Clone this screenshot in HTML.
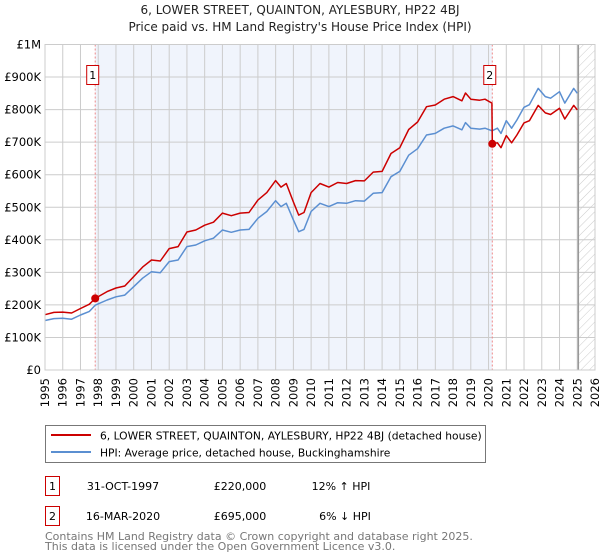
<!DOCTYPE html>
<html><head><meta charset="utf-8"><style>
body{margin:0;background:#fff;font-family:"DejaVu Sans","Liberation Sans",sans-serif;}
#wrap{position:relative;width:600px;height:560px;overflow:hidden;}
svg text{font-family:"DejaVu Sans","Liberation Sans",sans-serif;}
</style></head><body><div id="wrap">
<svg id="chart" width="600" height="560" xmlns="http://www.w3.org/2000/svg">
<defs><pattern id="hatch" width="6" height="6" patternUnits="userSpaceOnUse" patternTransform="rotate(45)"><line x1="0" y1="0" x2="0" y2="6" stroke="#ccc" stroke-width="1"/></pattern></defs>
<text x="300" y="14" text-anchor="middle" font-size="12" fill="#222">6, LOWER STREET, QUAINTON, AYLESBURY, HP22 4BJ</text>
<text x="300" y="31" text-anchor="middle" font-size="12" fill="#222">Price paid vs. HM Land Registry's House Price Index (HPI)</text>
<g id="plot"></g>
<g>
<rect x="45.5" y="425.5" width="440" height="37" fill="#fff" stroke="#777"/>
<line x1="51" y1="435" x2="91" y2="435" stroke="#cc0000" stroke-width="2"/>
<text x="100" y="439.5" font-size="10.7" fill="#000">6, LOWER STREET, QUAINTON, AYLESBURY, HP22 4BJ (detached house)</text>
<line x1="51" y1="452" x2="91" y2="452" stroke="#5b8fd1" stroke-width="2"/>
<text x="100" y="456.5" font-size="10.7" fill="#000">HPI: Average price, detached house, Buckinghamshire</text>
</g>
<g font-size="11" fill="#000">
<rect x="45.5" y="476.5" width="14" height="19" fill="#fff" stroke="#cc0000"/>
<text x="52.5" y="490" text-anchor="middle">1</text>
<text x="123" y="490" text-anchor="middle">31-OCT-1997</text>
<text x="240" y="490" text-anchor="middle">£220,000</text>
<text x="341" y="490" text-anchor="middle">12% ↑ HPI</text>
<rect x="45.5" y="506.5" width="14" height="19" fill="#fff" stroke="#cc0000"/>
<text x="52.5" y="520" text-anchor="middle">2</text>
<text x="123" y="520" text-anchor="middle">16-MAR-2020</text>
<text x="240" y="520" text-anchor="middle">£695,000</text>
<text x="345" y="520" text-anchor="middle">6% ↓ HPI</text>
</g>
<text x="45" y="540" font-size="11" fill="#777">Contains HM Land Registry data © Crown copyright and database right 2025.</text>
<text x="45" y="550" font-size="11" fill="#777">This data is licensed under the Open Government Licence v3.0.</text>
</svg>
<script>
const hpiYears=[1995,1995.5,1996,1996.5,1997,1997.5,1997.83,1998.5,1999,1999.5,2000,2000.5,2001,2001.5,2002,2002.5,2003,2003.5,2004,2004.5,2005,2005.5,2006,2006.5,2007,2007.5,2008,2008.3,2008.6,2009,2009.3,2009.6,2010,2010.5,2011,2011.5,2012,2012.5,2013,2013.5,2014,2014.5,2015,2015.5,2016,2016.5,2017,2017.5,2018,2018.5,2018.7,2019,2019.5,2019.8,2020.2,2020.5,2020.7,2021,2021.3,2021.6,2022,2022.3,2022.8,2023.2,2023.5,2024,2024.3,2024.8,2025];
const hpiValues=[152,158,159,156,169,180,199,215,225,230,256,282,302,299,333,338,379,384,397,405,430,423,430,432,466,487,520,502,512,461,425,432,487,512,502,514,512,520,519,543,545,594,610,660,680,722,727,743,750,738,760,743,740,743,735,743,727,766,743,768,807,815,865,840,835,855,820,865,850];
const priceYears=[1995,1995.5,1996,1996.5,1997,1997.5,1997.83,1998.5,1999,1999.5,2000,2000.5,2001,2001.5,2002,2002.5,2003,2003.5,2004,2004.5,2005,2005.5,2006,2006.5,2007,2007.5,2008,2008.3,2008.6,2009,2009.3,2009.6,2010,2010.5,2011,2011.5,2012,2012.5,2013,2013.5,2014,2014.5,2015,2015.5,2016,2016.5,2017,2017.5,2018,2018.5,2018.7,2019,2019.5,2019.8,2020.19,2020.21,2020.5,2020.7,2021,2021.3,2021.6,2022,2022.3,2022.8,2023.2,2023.5,2024,2024.3,2024.8,2025];
const priceValues=[170,177,178,175,189,202,220,241,252,258,287,316,338,335,373,379,424,430,445,454,482,474,482,484,522,545,582,562,573,516,476,484,545,573,562,576,573,582,581,608,610,665,683,739,762,809,814,832,840,827,851,832,829,832,820,695,698,683,720,698,722,759,766,813,790,785,804,771,813,799];
const saleYears=[1997.83,2020.21];
const saleValues=[220,695];
const saleLabels=["1","2"];
const yTicks=[0,100,200,300,400,500,600,700,800,900,1000];
const yTickLabels=["£0","£100K","£200K","£300K","£400K","£500K","£600K","£700K","£800K","£900K","£1M"];
const xTicks=[1995,1996,1997,1998,1999,2000,2001,2002,2003,2004,2005,2006,2007,2008,2009,2010,2011,2012,2013,2014,2015,2016,2017,2018,2019,2020,2021,2022,2023,2024,2025,2026];
const dataEnd=2025.06;

const L=45,R=595,T=44.5,B=370;
const X=y=>L+(y-1995)/(2026-1995)*(R-L);
const Y=v=>B-v/1000*(B-T);
const NS="http://www.w3.org/2000/svg";
const g=document.getElementById('plot');
function mk(tag,attrs,parent){const e=document.createElementNS(NS,tag);for(const k in attrs)e.setAttribute(k,attrs[k]);(parent||g).appendChild(e);return e;}

let r=mk('rect',{x:X(saleYears[0]),y:T,width:X(saleYears[1])-X(saleYears[0]),height:B-T,fill:'#f0f4fc'});


r=mk('rect',{x:X(dataEnd),y:T,width:R-X(dataEnd),height:B-T,fill:'url(#hatch)'});



yTicks.forEach((v,i)=>{
 const ln=mk('line',{x1:L,x2:R,y1:Y(v),y2:Y(v),stroke:'#ccc','stroke-width':1});
 
 
 const t=mk('text',{x:L-4,y:Y(v)+4,'text-anchor':'end','font-size':11.5,fill:'#000'});
 t.textContent=yTickLabels[i];
 
 
});
xTicks.forEach(yr=>{
 const ln=mk('line',{x1:X(yr),x2:X(yr),y1:T,y2:B,stroke:'#ccc','stroke-width':1});
 
 
 const t=mk('text',{x:0,y:0,'text-anchor':'end','font-size':11.5,fill:'#000',transform:`translate(${X(yr)+4},${B+8}) rotate(-90)`});
 t.textContent=yr;
 
 
});
let dl=mk('line',{x1:X(dataEnd),x2:X(dataEnd),y1:T,y2:B,stroke:'#999','stroke-width':1.5});



saleYears.forEach((yr,i)=>{
 const ln=mk('line',{x1:X(yr),x2:X(yr),y1:T,y2:B,stroke:'#e88','stroke-width':1,'stroke-dasharray':'2,2'});
 
 
});

function path(xs,vs){return xs.map((x,i)=>(i?'L':'M')+X(x).toFixed(1)+','+Y(vs[i]).toFixed(1)).join('');}
let p=mk('path',{d:path(hpiYears,hpiValues),fill:'none',stroke:'#5b8fd1','stroke-width':1.5,'stroke-linejoin':'round'});


p=mk('path',{d:path(priceYears,priceValues),fill:'none',stroke:'#cc0000','stroke-width':1.5,'stroke-linejoin':'round'});



saleYears.forEach((yr,i)=>{
 const c=mk('circle',{cx:X(yr),cy:Y(saleValues[i]),r:4,fill:'#cc0000'});
 
 
 const b=mk('rect',{x:X(yr)-8.5,y:65.5,width:12,height:19,fill:'#fff',stroke:'#cc0000'});
 
 
 const t=mk('text',{x:X(yr)-2.5,y:79,'text-anchor':'middle','font-size':11,fill:'#000'});
 t.textContent=saleLabels[i];
 
 
});
let ax=mk('rect',{x:L,y:T,width:R-L,height:B-T,fill:'none',stroke:'#ccc'});


</script>
</div></body></html>
